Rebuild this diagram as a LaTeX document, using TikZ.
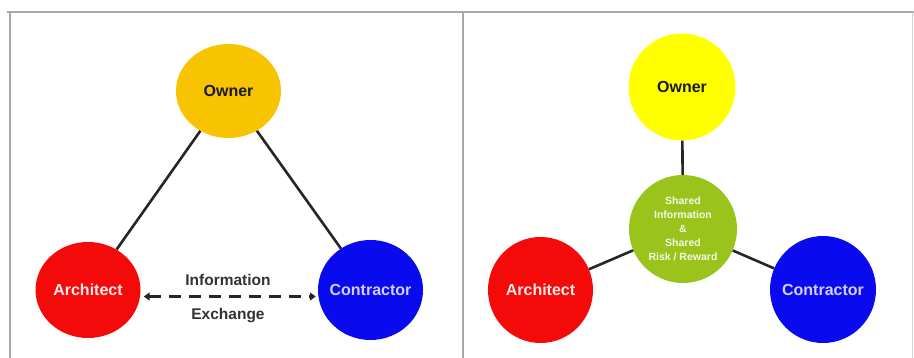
\documentclass[tikz,border=0pt]{standalone}
\usepackage{fontspec}
\setmainfont{Liberation Sans}
\usetikzlibrary{shapes.geometric,arrows.meta}

\definecolor{ownergold}{HTML}{F8C300}
\definecolor{ownerlemon}{HTML}{FFFF00}
\definecolor{archred}{HTML}{F50A0A}
\definecolor{contblue}{HTML}{0A0AEE}
\definecolor{sharedgreen}{HTML}{9AC31C}
\definecolor{linkgray}{HTML}{262626}
\definecolor{framegray}{HTML}{A8A8A8}
\definecolor{labelgray}{HTML}{333333}

% text that does not widen its node
\newcommand{\nowide}[1]{\makebox[0pt][c]{#1}}

\begin{document}
\begin{tikzpicture}[x=1pt,y=-1pt,
  party/.style={ellipse, inner sep=0pt, font=\bfseries\fontsize{16}{19}\selectfont},
  flatparty/.style={party, minimum width=105pt, minimum height=96pt},
  discparty/.style={party, minimum width=107pt, minimum height=107pt},
  link/.style={draw=linkgray, line width=2.6pt},
  exchange/.style={draw=linkgray, line width=3pt, dash pattern=on 11.5pt off 8.5pt,
    {Triangle[length=6pt,width=8pt]}-{Triangle[length=6pt,width=8pt]}},
  caption/.style={text=labelgray, font=\bfseries\fontsize{15.5}{18}\selectfont, inner sep=0pt},
  frame/.style={draw=framegray, line width=2pt}
]
  % page and bounding box
  \fill[white] (0,0) rectangle (914,358);
  \useasboundingbox (0,0) rectangle (914,358);

  % panel frame
  \draw[frame] (7,12) -- (914,12);
  \draw[frame] (9.5,12) -- (9.5,358);
  \draw[frame] (463,12) -- (463,358);
  \draw[draw=framegray!50, line width=1.5pt] (912.5,12) -- (912.5,358);

  % ---- traditional arrangement ----
  \node[flatparty, fill=ownergold, text=black!90, minimum height=94pt] (ownerA) at (228.5,91) {\nowide{Owner}};
  \node[flatparty, fill=archred, text=red!8!white]  (archA) at (88,290)    {\nowide{Architect}};
  \node[flatparty, fill=contblue, text=blue!18!white, minimum height=100pt] (contA) at (370.5,290) {\nowide{Contractor}};

  \draw[link] (ownerA) -- (archA);
  \draw[link] (ownerA) -- (contA);

  \coordinate (exL) at ([yshift=-6.5pt]archA.east);
  \coordinate (exR) at ([yshift=-6.5pt]contA.west);
  \draw[exchange] ([xshift=3pt]exL) -- ([xshift=-2pt]exR);
  \node[caption] (infoA) at (228,280) {Information};
  \node[caption] (exchA) at (228,316) {Exchange};

  % ---- integrated arrangement ----
  \node[discparty, fill=ownerlemon, text=black!90]  (ownerB)  at (682,87)    {\nowide{Owner}};
  \node[discparty, fill=sharedgreen, minimum width=108pt, minimum height=108pt,
        text=white!90!sharedgreen, align=center,
        font=\bfseries\fontsize{10.5}{14}\selectfont] (shared) at (683,229)
        {Shared\\Information\\\&\\Shared\\Risk / Reward};
  \node[discparty, fill=archred, text=red!8!white, minimum width=105pt, minimum height=106pt]  (archB) at (540.5,290) {\nowide{Architect}};
  \node[discparty, fill=contblue, text=blue!18!white, minimum width=106pt] (contB) at (823,289.5) {\nowide{Contractor}};

  \draw[link] (ownerB) -- (shared);
  \draw[link] (shared) -- (archB);
  \draw[link] (shared) -- (contB);
\end{tikzpicture}
\end{document}
